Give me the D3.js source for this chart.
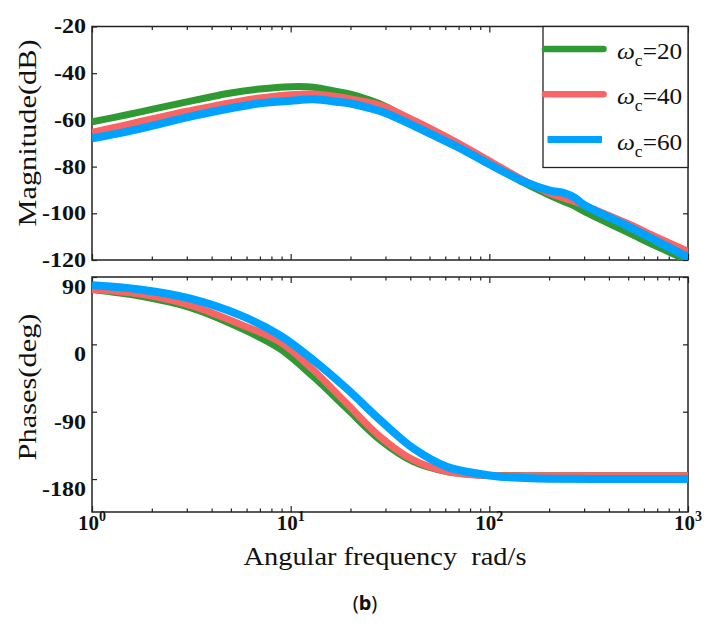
<!DOCTYPE html>
<html>
<head>
<meta charset="utf-8">
<script src="https://d3js.org/d3.v7.min.js"></script>
<style>
  body { margin: 0; background: #fff; }
</style>
</head>
<body>
<div id="container"></div>
<script>
var width = 705, height = 632;

// magnitude curves (dB)
var magFreq = [1, 1.5, 2, 3, 4, 5, 7, 10, 13, 17, 20, 25, 30, 40, 50, 70, 100, 150, 200, 240, 270, 300, 500, 700, 1000];
var magW20 = [-60.8, -57.8, -55.5, -52.3, -50.1, -48.5, -46.8, -45.8, -46.0, -47.8, -49.0, -51.5, -54.2, -60.2, -64.5, -71.0, -78.5, -87.0, -92.2, -95.2, -97.0, -99.2, -108.3, -114.3, -120.2];
var magW40 = [-65.3, -62.0, -59.6, -56.3, -54.2, -52.6, -50.6, -49.2, -48.9, -50.0, -51.0, -52.6, -54.5, -59.5, -63.5, -70.0, -77.5, -86.0, -91.3, -93.6, -95.0, -96.5, -104.5, -110.3, -116.3];
var magW60 = [-67.9, -65.0, -62.6, -58.9, -56.6, -55.0, -52.9, -51.8, -51.2, -52.2, -53.0, -55.0, -57.0, -61.8, -65.8, -71.8, -79.0, -86.5, -90.2, -91.4, -93.4, -96.4, -105.6, -112.0, -118.8];

// phase curves (deg)
var phFreq = [1, 1.74, 3.1, 5.56, 8.84, 13, 19.1, 28.2, 41.4, 61, 89.8, 113, 150, 200, 500, 1000];
var phW20 = [73.4, 64.5, 49.4, 22, -6, -43.3, -85.4, -127.8, -156.7, -170, -174.5, -175.2, -175.4, -175.5, -175.5, -175.5];
var phW40 = [73.4, 67.2, 52.5, 27, 3, -34.3, -78.8, -123.4, -154.5, -170, -175.0, -175.4, -175.5, -175.5, -175.5, -175.5];
var phW60 = [79, 73.4, 61.4, 39, 12, -21, -58.8, -101, -138.9, -163.4, -173.2, -176.8, -178.5, -179.5, -180, -180];

var seriesNames = ["20", "40", "60"];
var colors = ["#2f9a33", "#f96464", "#00a2ff"];
var widths = [7, 7, 8];

var magTicks = [-20, -40, -60, -80, -100, -120];
var phTicks = [90, 0, -90, -180];
var decades = [1, 10, 100, 1000];

var serif = "'Liberation Serif', 'Times New Roman', serif";

var svg = d3.select("#container").append("svg")
  .attr("width", width).attr("height", height);

var x = d3.scaleLog().domain([1, 1000]).range([92, 688]);
var yMag = d3.scaleLinear().domain([-20, -120]).range([26.5, 260]);
var yPh = d3.scaleLinear().domain([90, -224]).range([277, 512]);

var minor = x.ticks().filter(function(d) { return decades.indexOf(d) < 0; });

function panel(y, top, bottom, ticks, labelShift, clipId) {
  var g = svg.append("g");
  svg.append("clipPath").attr("id", clipId).append("rect")
    .attr("x", 92).attr("y", top).attr("width", 596).attr("height", bottom - top);

  // ticks point inward on every side
  g.append("g").attr("transform", "translate(0," + bottom + ")")
    .call(d3.axisBottom(x).tickValues(decades).tickSize(-6).tickFormat(""));
  g.append("g").attr("transform", "translate(0," + bottom + ")")
    .call(d3.axisBottom(x).tickValues(minor).tickSize(-3.5).tickFormat(""));
  g.append("g").attr("transform", "translate(0," + top + ")")
    .call(d3.axisTop(x).tickValues(decades).tickSize(-6).tickFormat(""));
  g.append("g").attr("transform", "translate(0," + top + ")")
    .call(d3.axisTop(x).tickValues(minor).tickSize(-3.5).tickFormat(""));
  g.append("g").attr("transform", "translate(688,0)")
    .call(d3.axisRight(y).tickValues(ticks).tickSize(-5).tickFormat(""));
  var left = g.append("g").attr("transform", "translate(92,0)")
    .call(d3.axisLeft(y).tickValues(ticks).tickSize(-5).tickPadding(6)
      .tickFormat(function(d) { return String(d); }));
  left.selectAll("text")
    .attr("font-family", serif)
    .attr("font-weight", "bold").attr("font-size", 20).attr("fill", "#111")
    .attr("transform", function() {
      var xx = +d3.select(this).attr("x");
      return "translate(" + xx + "," + labelShift + ") scale(1.2,1)";
    })
    .attr("x", 0);
  g.selectAll(".domain").remove();
  g.selectAll(".tick line").attr("stroke", "#222").attr("stroke-width", 1.2);

  g.append("rect").attr("x", 92).attr("y", top).attr("width", 596).attr("height", bottom - top)
    .attr("fill", "none").attr("stroke", "#222").attr("stroke-width", 1.5);
}

panel(yMag, 26.5, 260, magTicks, 0, "clipMag");
panel(yPh, 277, 512, phTicks, 10, "clipPh");

function drawCurves(freq, sets, y, clipId) {
  var line = d3.line()
    .x(function(d) { return x(d[0]); })
    .y(function(d) { return y(d[1]); })
    .curve(d3.curveCatmullRom.alpha(0.5));
  var g = svg.append("g").attr("clip-path", "url(#" + clipId + ")");
  sets.forEach(function(vals, i) {
    g.append("path")
      .datum(freq.map(function(f, j) { return [f, vals[j]]; }))
      .attr("d", line)
      .attr("fill", "none")
      .attr("stroke", colors[i])
      .attr("stroke-width", widths[i])
      .attr("stroke-linejoin", "round");
  });
}

drawCurves(magFreq, [magW20, magW40, magW60], yMag, "clipMag");
drawCurves(phFreq, [phW20, phW40, phW60], yPh, "clipPh");

// x tick labels 10^n
var xl = svg.append("g")
  .attr("font-family", serif)
  .attr("font-weight", "bold").attr("fill", "#111");
decades.forEach(function(d, i) {
  var t = xl.append("text")
    .attr("transform", "translate(" + x(d) + ",530)")
    .attr("text-anchor", "middle").attr("font-size", 21);
  t.append("tspan").text("10");
  t.append("tspan").attr("font-size", 14).attr("dy", -9).text(String(i));
});

// axis titles
svg.append("text")
  .attr("transform", "translate(36,133) rotate(-90)")
  .attr("text-anchor", "middle").attr("font-family", serif).attr("font-size", 26)
  .attr("textLength", 187).attr("lengthAdjust", "spacingAndGlyphs")
  .attr("fill", "#111").text("Magnitude(dB)");
svg.append("text")
  .attr("transform", "translate(36,387) rotate(-90)")
  .attr("text-anchor", "middle").attr("font-family", serif).attr("font-size", 26)
  .attr("textLength", 147).attr("lengthAdjust", "spacingAndGlyphs")
  .attr("fill", "#111").text("Phases(deg)");
svg.append("text")
  .attr("x", 385).attr("y", 565)
  .attr("text-anchor", "middle").attr("font-family", serif).attr("font-size", 26)
  .attr("textLength", 283).attr("lengthAdjust", "spacingAndGlyphs")
  .attr("fill", "#111").text("Angular frequency \u00a0rad/s");

// caption
var cap = svg.append("text")
  .attr("x", 365).attr("y", 610)
  .attr("text-anchor", "middle").attr("font-family", "'Noto Sans', 'Open Sans', sans-serif")
  .attr("font-size", 20).attr("fill", "#111");
cap.append("tspan").text("(");
cap.append("tspan").attr("font-weight", "bold").text("b");
cap.append("tspan").text(")");

// legend
var legend = svg.append("g");
legend.append("rect").attr("x", 543).attr("y", 26.5).attr("width", 145).attr("height", 141)
  .attr("fill", "#fff").attr("stroke", "#222").attr("stroke-width", 1.3);
seriesNames.forEach(function(name, i) {
  var ly = 49 + i * 45.3;
  legend.append("line")
    .attr("x1", i === 2 ? 547.5 : 545).attr("x2", i === 2 ? 602 : 603.5)
    .attr("y1", ly).attr("y2", ly)
    .attr("stroke", colors[i]).attr("stroke-width", i === 2 ? 7 : 6.5)
    .attr("stroke-linecap", i === 2 ? "butt" : "round");
  var t = legend.append("text")
    .attr("transform", "translate(617," + (ly + 10) + ") scale(1.1,1)")
    .attr("font-family", serif).attr("font-size", 23).attr("fill", "#111");
  t.append("tspan").attr("font-style", "italic").text("\u03c9");
  t.append("tspan").attr("font-size", 16).attr("dy", 7).text("c");
  t.append("tspan").attr("dy", -7).text("=" + name);
});
</script>
</body>
</html>
